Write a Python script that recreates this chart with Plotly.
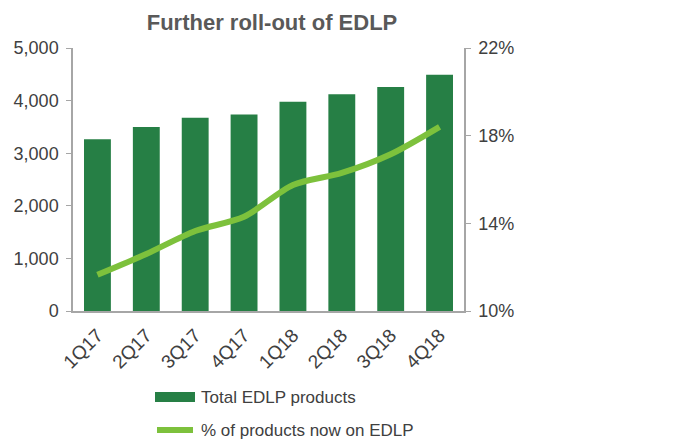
import plotly.graph_objects as go

quarters = ["1Q17", "2Q17", "3Q17", "4Q17", "1Q18", "2Q18", "3Q18", "4Q18"]
total_edlp = [3265, 3500, 3675, 3735, 3980, 4120, 4260, 4490]
pct_edlp = [11.65, 12.6, 13.65, 14.3, 15.75, 16.3, 17.15, 18.4]

BAR = "#267F45"
LINE = "#7DC13C"
TXT = "#404040"
AX = "#A6A6A6"

# plot area in pixels
L, R, T, B = 73, 464, 48, 311
def px(x):
    return (x - L) / (R - L)
def py(y):
    return (B - y) / (B - T)

fig = go.Figure()
fig.add_trace(go.Bar(x=quarters, y=total_edlp, name="Total EDLP products",
                     marker=dict(color=BAR, line=dict(width=0)), width=0.55,
                     showlegend=False))
fig.add_trace(go.Scatter(x=quarters, y=pct_edlp, name="% of products now on EDLP",
                         yaxis="y2", mode="lines", showlegend=False,
                         line=dict(color=LINE, width=6, shape="spline", smoothing=0.8)))

# custom legend (bar swatch + line swatch)
shapes = [
    dict(type="rect", xref="paper", yref="paper", x0=px(155), x1=px(195),
         y0=py(402), y1=py(392), fillcolor=BAR, line=dict(width=0)),
    dict(type="line", xref="paper", yref="paper", x0=px(157), x1=px(193),
         y0=py(430), y1=py(430), line=dict(color=LINE, width=6)),
]
annotations = [
    dict(text="Total EDLP products", xref="paper", yref="paper", x=px(199), y=py(397),
         xanchor="left", yanchor="middle", showarrow=False,
         font=dict(size=17, color=TXT)),
    dict(text="% of products now on EDLP", xref="paper", yref="paper", x=px(199),
         y=py(430), xanchor="left", yanchor="middle", showarrow=False,
         font=dict(size=17, color=TXT)),
]

fig.update_layout(
    width=681, height=440,
    margin=dict(l=L, r=681 - R, t=T, b=440 - B),
    paper_bgcolor="white", plot_bgcolor="white",
    font=dict(family="Liberation Sans, Arial, sans-serif", size=18, color=TXT),
    title=dict(text="<b>Further roll-out of EDLP</b>", x=272/681, xanchor="center",
               y=1 - 22/440, yanchor="middle",
               font=dict(size=22, color="#595959")),
    showlegend=False,
    shapes=shapes,
    annotations=annotations,
    bargap=0.45,
    xaxis=dict(showline=True, linecolor=AX, linewidth=1.5, ticks="", tickangle=-45,
               showgrid=False, mirror=False, tickfont=dict(size=19),
               ticklabelstandoff=4),
    yaxis=dict(range=[0, 5000], dtick=1000, tickformat=",d", showline=True,
               linecolor=AX, linewidth=1.5, ticks="outside", ticklen=5,
               tickcolor=AX, showgrid=False, zeroline=False, ticklabelstandoff=4),
    yaxis2=dict(range=[10, 22], tick0=10, dtick=4, ticksuffix="%", overlaying="y",
                side="right", showline=True, linecolor=AX, linewidth=1.5,
                ticks="outside", ticklen=5, tickcolor=AX, showgrid=False,
                zeroline=False, ticklabelstandoff=4),
)

fig.write_html("out.html", config={"displayModeBar": False},
               post_script="document.body.style.margin='0px';document.body.style.padding='0px';")
